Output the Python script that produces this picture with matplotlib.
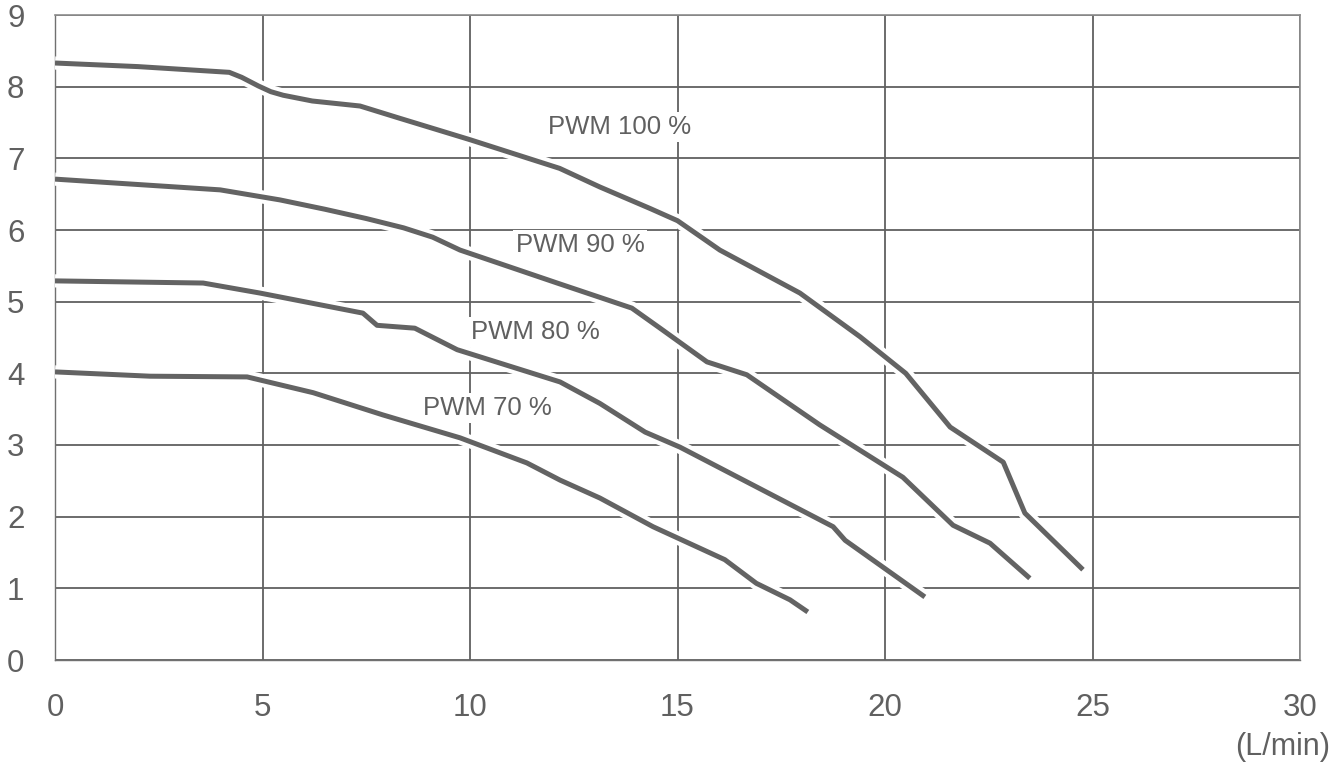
import matplotlib
matplotlib.use('Agg')
import matplotlib.pyplot as plt
import matplotlib.patheffects as pe

plt.rcParams['font.family'] = ['Liberation Sans', 'DejaVu Sans']

# Pump curves: flow (L/min) vs head, one per PWM duty
flow_100 = [0, 2, 4.2, 4.5, 4.9, 5.2, 5.5, 6.2, 7.35, 8.3, 10, 12.16, 13.13, 14.34, 15, 16.02,
            17.95, 19.4, 20.5, 21.57, 22.85, 23.37, 24.77]
head_100 = [8.33, 8.28, 8.20, 8.13, 8.01, 7.93, 7.88, 7.80, 7.73, 7.56, 7.26, 6.86, 6.6, 6.3, 6.13, 5.72,
            5.12, 4.51, 4.0, 3.25, 2.76, 2.05, 1.26]

flow_90 = [0, 3.98, 5.42, 6.5, 7.5, 8.4, 9.1, 9.76, 12.1, 13.13, 13.9, 14.58, 15.71, 16.67,
           18.43, 20.43, 21.64, 22.53, 23.49]
head_90 = [6.71, 6.56, 6.42, 6.29, 6.16, 6.03, 5.9, 5.72, 5.26, 5.06, 4.91, 4.63, 4.16, 3.98,
           3.28, 2.55, 1.88, 1.63, 1.14]

flow_80 = [0, 3.57, 4.94, 7.42, 7.76, 8.67, 9.69, 12.17, 13.13, 14.22, 15.06,
           18.75, 19.04, 20.96]
head_80 = [5.29, 5.26, 5.12, 4.84, 4.67, 4.63, 4.33, 3.88, 3.58, 3.18, 2.97,
           1.86, 1.67, 0.88]

flow_70 = [0, 2.29, 4.63, 6.22, 7.9, 9.76, 11.37, 12.17, 13.13, 14.41, 16.14,
           16.9, 17.71, 18.14]
head_70 = [4.02, 3.96, 3.95, 3.73, 3.42, 3.1, 2.75, 2.51, 2.26, 1.86, 1.40,
           1.07, 0.84, 0.67]

curves = [(flow_100, head_100), (flow_90, head_90), (flow_80, head_80), (flow_70, head_70)]
labels = ['PWM 100 %', 'PWM 90 %', 'PWM 80 %', 'PWM 70 %']
label_pos = [(13.6, 7.44), (12.65, 5.79), (11.57, 4.58), (10.41, 3.52)]

x_ticks = [0, 5, 10, 15, 20, 25, 30]
y_ticks = list(range(10))

grey = '#606060'
line_grey = '#636363'

fig = plt.figure(figsize=(13.43, 7.65), dpi=100)
ax = fig.add_axes([55 / 1343, 105 / 765, 1245 / 1343, 645 / 765])

halo = [pe.Stroke(linewidth=9.5, foreground='white'), pe.Normal()]
for fx, hy in curves:
    ax.plot(fx, hy, color=line_grey, linewidth=3.6, solid_joinstyle='round',
            solid_capstyle='butt', path_effects=halo, zorder=3)

for text, (lx, ly) in zip(labels, label_pos):
    ax.text(lx, ly, text, fontsize=18.5, color=grey, ha='center', va='center', zorder=4,
            bbox=dict(facecolor='white', edgecolor='none', pad=2))

ax.set_xlim(0, 30)
ax.set_ylim(0, 9)
ax.set_xticks(x_ticks)
ax.set_yticks(y_ticks)
ax.grid(True, color=grey, linewidth=1.3)
ax.set_axisbelow(True)
ax.tick_params(length=0, labelsize=22.5, labelcolor=grey)
ax.tick_params(axis='x', pad=24)
ax.tick_params(axis='y', pad=22)

for side in ['left', 'bottom']:
    ax.spines[side].set_color('#707070')
    ax.spines[side].set_linewidth(1.0)
for side in ['top', 'right']:
    ax.spines[side].set_color('#8c8c8c')
    ax.spines[side].set_linewidth(1.2)

fig.text(1330 / 1343, 1 - 747 / 765, '(L/min)', fontsize=22, color=grey,
         ha='right', va='center')

fig.savefig('out.png', dpi=100)
